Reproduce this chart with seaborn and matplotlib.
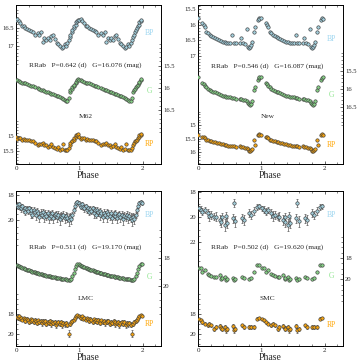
import numpy as np
import matplotlib
matplotlib.use("Agg")
import matplotlib.pyplot as plt
import seaborn as sns
from matplotlib.ticker import FixedLocator, FormatStrFormatter

# ---- data (one pulsation cycle, plotted twice) ----
m62_phase = [0.00, 0.02, 0.04, 0.07, 0.10, 0.12, 0.15, 0.18, 0.21, 0.24,
             0.27, 0.30, 0.34, 0.37, 0.40, 0.42, 0.45, 0.48, 0.50, 0.53,
             0.56, 0.58, 0.61, 0.64, 0.66, 0.69, 0.72, 0.74, 0.77, 0.79,
             0.81, 0.83, 0.85, 0.86, 0.88, 0.89, 0.91, 0.92, 0.94, 0.95,
             0.97, 0.98]
m62_bp = [16.30, 16.27, 16.33, 16.38, 16.45, 16.47, 16.50, 16.54, 16.57, 16.60,
          16.62, 16.70, 16.66, 16.72, 16.62, 16.90, 16.80, 16.86, 16.78, 16.84,
          16.74, 16.70, 16.82, 16.92, 16.97, 17.02, 17.07, 17.03, 16.96, 17.00,
          16.93, 16.86, 16.76, 16.70, 16.63, 16.58, 16.52, 16.47, 16.42, 16.36,
          16.31, 16.28]
m62_g = [15.82, 15.83, 15.84, 15.86, 15.88, 15.89, 15.90, 15.92, 15.94, 15.95,
         15.97, 15.98, 16.01, 16.02, 16.04, 16.05, 16.07, 16.09, 16.10, 16.11,
         16.13, 16.15, 16.16, 16.18, 16.19, 16.21, 16.23, 16.25, 16.27, 16.29,
         16.30, 16.24, 16.10, 16.06, 16.02, 15.99, 15.96, 15.93, 15.89, 15.86,
         15.82, 15.80]
m62_rp = [15.03, 15.10, 15.06, 15.08, 15.12, 15.10, 15.13, 15.14, 15.13, 15.15,
          15.17, 15.22, 15.30, 15.25, 15.28, 15.24, 15.30, 15.29, 15.36, 15.33,
          15.28, 15.38, 15.40, 15.42, 15.37, 15.45, 15.43, 15.27, 15.48, 15.45,
          15.47, 15.40, 15.30, 15.22, 15.18, 15.15, 15.12, 15.08, 15.02, 14.98,
          14.95, 14.93]

new_phase = [0.00, 0.07, 0.09, 0.11, 0.13, 0.16, 0.19, 0.21, 0.24, 0.27,
             0.30, 0.33, 0.36, 0.39, 0.42, 0.45, 0.48, 0.51, 0.54, 0.57,
             0.60, 0.66, 0.68, 0.71, 0.74, 0.77, 0.79, 0.80, 0.82, 0.83,
             0.85, 0.88, 0.90, 0.95, 0.96, 0.97]
new_bp = [15.78, 15.95, 16.00, 16.08, 16.22, 16.25, 16.32, 16.35, 16.38, 16.43,
          16.46, 16.48, 16.51, 16.54, 16.56, 16.57, 16.59, 16.57, 16.32, 16.57,
          16.59, 16.57, 16.43, 16.59, 16.62, 16.14, 16.70, 16.75, 16.70, 16.65,
          16.55, 16.22, 16.05, 15.84, 15.78, 15.81]
new_g = [15.67, 15.82, 15.85, 15.91, 15.94, 15.99, 16.02, 16.04, 16.07, 16.09,
         16.11, 16.14, 16.16, 16.18, 16.20, 16.21, 16.22, 16.23, 16.24, 16.25,
         16.26, 16.27, 16.28, 16.29, 16.31, 16.32, 16.37, 16.41, 16.44, 16.41,
         16.34, 16.02, 15.95, 15.75, 15.70, 15.66]
new_rp = [15.37, 15.43, 15.46, 15.49, 15.56, 15.56, 15.59, 15.60, 15.63, 15.64,
          15.65, 15.68, 15.70, 15.72, 15.73, 15.75, 15.77, 15.77, 15.78, 15.78,
          15.80, 15.78, 15.80, 15.81, 15.84, 15.86, 15.90, 15.95, 15.95, 15.93,
          15.89, 15.56, 15.74, 15.37, 15.35, 15.37]

lmc_phase = [0.01, 0.03, 0.05, 0.06, 0.08, 0.10, 0.12, 0.14, 0.15, 0.17,
             0.19, 0.21, 0.23, 0.24, 0.26, 0.28, 0.30, 0.32, 0.33, 0.35,
             0.37, 0.39, 0.41, 0.43, 0.44, 0.46, 0.48, 0.50, 0.52, 0.54,
             0.56, 0.57, 0.59, 0.61, 0.63, 0.65, 0.67, 0.69, 0.71, 0.73,
             0.75, 0.77, 0.79, 0.81, 0.83, 0.85, 0.87, 0.89, 0.91, 0.93,
             0.95, 0.97, 0.99]
lmc_bp = [18.78, 18.90, 18.72, 18.95, 19.05, 18.88, 19.15, 19.02, 19.30, 19.10,
          19.25, 19.05, 19.40, 19.20, 19.55, 19.15, 19.35, 19.60, 19.28, 19.45,
          19.70, 19.38, 19.55, 19.30, 19.75, 19.48, 19.62, 19.40, 19.80, 19.55,
          19.68, 19.45, 19.85, 19.60, 19.50, 19.75, 19.58, 19.90, 19.62, 19.70,
          19.55, 19.82, 19.65, 19.78, 19.95, 19.70, 19.90, 19.60, 19.20, 18.85,
          18.65, 18.55, 18.60]
lmc_bp_err = [0.18, 0.20, 0.15, 0.22, 0.25, 0.18, 0.24, 0.20, 0.30, 0.22,
              0.26, 0.20, 0.45, 0.24, 0.30, 0.22, 0.28, 0.35, 0.25, 0.28,
              0.40, 0.26, 0.30, 0.24, 0.35, 0.28, 0.32, 0.25, 0.45, 0.30,
              0.32, 0.26, 0.38, 0.30, 0.28, 0.35, 0.30, 0.50, 0.30, 0.32,
              0.28, 0.36, 0.30, 0.34, 0.48, 0.32, 0.40, 0.25, 0.22, 0.20,
              0.18, 0.16, 0.15]
lmc_g = [18.52, 18.56, 18.60, 18.63, 18.67, 18.70, 18.74, 18.77, 18.80, 18.83,
         18.86, 18.89, 18.92, 18.94, 18.97, 19.00, 19.02, 19.05, 19.07, 19.10,
         19.12, 19.14, 19.17, 19.19, 19.21, 19.23, 19.26, 19.28, 19.30, 19.32,
         19.34, 19.35, 19.37, 19.39, 19.40, 19.42, 19.44, 19.46, 19.47, 19.49,
         19.50, 19.52, 19.53, 19.55, 19.57, 19.56, 19.48, 19.30, 19.05, 18.80,
         18.55, 18.42, 18.40]
lmc_rp = [18.30, 18.45, 18.25, 18.50, 18.40, 18.60, 18.45, 18.55, 18.70, 18.50,
          18.65, 18.80, 18.55, 18.70, 18.62, 18.85, 18.60, 18.75, 18.90, 18.65,
          18.80, 18.70, 18.95, 18.75, 18.85, 18.70, 19.00, 18.80, 18.90, 18.75,
          19.05, 18.85, 18.95, 18.80, 19.10, 18.90, 18.85, 19.00, 18.80, 19.15,
          18.95, 19.05, 18.90, 19.10, 20.00, 19.00, 18.85, 18.75, 18.60, 18.40,
          18.25, 18.15, 18.20]
lmc_rp_err = [0.12, 0.14, 0.12, 0.15, 0.14, 0.16, 0.14, 0.15, 0.18, 0.14,
              0.16, 0.20, 0.15, 0.18, 0.16, 0.22, 0.16, 0.18, 0.25, 0.16,
              0.20, 0.18, 0.24, 0.18, 0.20, 0.18, 0.26, 0.20, 0.22, 0.18,
              0.28, 0.20, 0.22, 0.20, 0.30, 0.22, 0.20, 0.24, 0.20, 0.30,
              0.22, 0.24, 0.20, 0.26, 0.35, 0.22, 0.20, 0.18, 0.16, 0.15,
              0.14, 0.12, 0.12]

smc_phase = [0.01, 0.04, 0.07, 0.11, 0.16, 0.18, 0.21, 0.26, 0.28, 0.34,
             0.37, 0.38, 0.42, 0.44, 0.46, 0.55, 0.57, 0.59, 0.69, 0.72,
             0.80, 0.83, 0.88, 0.93, 0.96]
smc_bp = [19.30, 19.42, 19.58, 19.45, 19.70, 19.95, 19.85, 19.97, 20.00, 20.25,
          20.38, 19.98, 20.63, 19.95, 20.50, 20.10, 18.92, 20.35, 20.10, 20.25,
          19.70, 19.85, 19.55, 19.20, 19.15]
smc_bp_err = [0.20, 0.25, 0.30, 0.25, 0.35, 0.40, 0.30, 0.30, 0.35, 0.40,
              0.45, 0.30, 0.50, 0.35, 0.40, 0.35, 0.30, 0.45, 0.35, 0.40,
              0.30, 0.30, 0.30, 0.25, 0.20]
smc_g = [18.90, 18.95, 19.30, 19.16, 19.47, 19.62, 19.68, 19.78, 19.80, 19.62,
         19.94, 19.85, 19.78, 20.10, 19.95, 19.90, 20.10, 19.95, 19.78, 19.92,
         19.94, 19.90, 19.30, 18.65, 18.62]
smc_rp = [18.50, 18.67, 18.83, 19.00, 19.17, 19.00, 19.17, 19.50, 19.33, 19.23,
          19.43, 19.50, 19.33, 19.67, 19.50, 19.23, 19.67, 19.50, 19.17, 19.33,
          19.33, 19.33, 19.30, 18.50, 18.43]
smc_rp_err = [0.12, 0.14, 0.15, 0.16, 0.18, 0.16, 0.18, 0.22, 0.20, 0.18,
              0.22, 0.24, 0.20, 0.26, 0.22, 0.18, 0.26, 0.22, 0.18, 0.20,
              0.20, 0.20, 0.18, 0.14, 0.12]

names = ["M62", "New", "LMC", "SMC"]
periods = ["0.642", "0.546", "0.511", "0.502"]
g_means = ["16.076", "16.087", "19.170", "19.620"]

# ---- style ----
sns.set_style("ticks")
plt.rcParams['font.family'] = ['Liberation Serif', 'DejaVu Serif']
plt.rcParams['xtick.direction'] = 'in'
plt.rcParams['ytick.direction'] = 'in'

band_fill = {"BP": "#a3cfdc", "G": "#86d086", "RP": "#f5a30f"}
band_text = {"BP": "#9dd6f0", "G": "#8fe58f", "RP": "#ffa500"}
edge = "#3c3c3c"

fig = plt.figure(figsize=(3.64, 3.64), dpi=100)


def add_band(rect, phase, mag, err):
    ax = fig.add_axes(rect)
    ax.patch.set_visible(False)
    for s in ax.spines.values():
        s.set_visible(False)
    ph = np.concatenate([phase, np.asarray(phase) + 1])
    mm = np.concatenate([mag, mag])
    if err is not None:
        ee = np.concatenate([err, err])
        ax.errorbar(ph, mm, yerr=ee, fmt='none', ecolor='#5a5a5a',
                    elinewidth=0.5, capsize=0.8, capthick=0.5, zorder=2)
    return ax, ph, mm


def style_band(ax, ylim, ticks, side, step):
    ax.set_xlim(0, 2.29)
    ax.set_ylim(ylim)
    ax.set_xticks([])
    ax.yaxis.set_ticks_position(side)
    ax.yaxis.set_major_locator(FixedLocator(ticks))
    minor = np.arange(ticks[0] - step, ticks[-1] + step * 1.01,
                      step / 5 if step < 1 else step / 4)
    ax.yaxis.set_minor_locator(FixedLocator(minor))
    ax.yaxis.set_major_formatter(FormatStrFormatter('%g'))
    ax.tick_params(axis='y', which='major', length=2.5, width=0.5,
                   labelsize=4.8, pad=1.5,
                   left=(side == 'left'), right=(side == 'right'),
                   labelleft=(side == 'left'), labelright=(side == 'right'))
    ax.tick_params(axis='y', which='minor', length=1.3, width=0.4,
                   left=(side == 'left'), right=(side == 'right'))
    ax.set_xlabel("")
    ax.set_ylabel("")


panels = [
    dict(rect=[0.04396, 0.54945, 0.39835, 0.43681], name=0,
         phase=m62_phase,
         bands=[("BP", m62_bp, None, (20.29, 15.875), [16.5, 17], "left", 0.5),
                ("G", m62_g, None, (17.72, 14.13), [15.5, 16, 16.5], "right", 0.5),
                ("RP", m62_rp, None, (15.933, 10.633), [15, 15.5], "left", 0.5)],
         label_y=[0.824, 0.461, 0.126], info_y=0.623, name_y=0.297),
    dict(rect=[0.54396, 0.54945, 0.39835, 0.43681], name=1,
         phase=new_phase,
         bands=[("BP", new_bp, None, (20.484, 15.355), [15.5, 16, 16.5, 17], "left", 0.5),
                ("G", new_g, None, (18.062, 13.682), [15.5, 16, 16.5], "right", 0.5),
                ("RP", new_rp, None, (16.444, 10.556), [15, 15.5, 16], "left", 0.5)],
         label_y=[0.786, 0.434, 0.12], info_y=0.618, name_y=0.297),
    dict(rect=[0.04396, 0.04945, 0.39835, 0.42582], name=2,
         phase=lmc_phase,
         bands=[("BP", lmc_bp, lmc_bp_err, (30.056, 17.656), [18, 20], "left", 2),
                ("G", lmc_g, None, (24.286, 13.214), [18, 20], "right", 2),
                ("RP", lmc_rp, lmc_rp_err, (21.23, 5.73), [18, 20], "left", 2)],
         label_y=[0.847, 0.445, 0.144], info_y=0.639, name_y=0.305),
    dict(rect=[0.54396, 0.04945, 0.39835, 0.42582], name=3,
         phase=smc_phase,
         bands=[("BP", smc_bp, smc_bp_err, (30.21, 17.95), [18, 20, 22], "left", 2),
                ("G", smc_g, None, (26.26, 11.71), [18, 20], "right", 2),
                ("RP", smc_rp, smc_rp_err, (21.23, 5.73), [18, 20], "left", 2)],
         label_y=[0.843, 0.45, 0.134], info_y=0.639, name_y=0.305),
]

for p in panels:
    frame = fig.add_axes(p["rect"])
    frame.set_xlim(0, 2.29)
    frame.set_ylim(0, 1)
    frame.set_yticks([])
    frame.set_xticks([0, 1, 2])
    frame.set_xticks(np.arange(0, 2.3, 0.2), minor=True)
    frame.tick_params(axis='x', which='major', length=2.5, width=0.5,
                      labelsize=5, pad=1.5, top=True)
    frame.tick_params(axis='x', which='minor', length=1.3, width=0.4, top=True)
    for s in frame.spines.values():
        s.set_linewidth(0.7)
        s.set_color("black")
    frame.set_xlabel("Phase", fontsize=7, labelpad=0)

    i = p["name"]
    frame.text(0.48, p["info_y"],
               "RRab   P=%s (d)   G=%s (mag)" % (periods[i], g_means[i]),
               transform=frame.transAxes, ha='center', va='center', fontsize=5.3)
    frame.text(0.48, p["name_y"], names[i], transform=frame.transAxes,
               ha='center', va='center', fontsize=5.3)

    for (band, mag, err, ylim, ticks, side, step), ly in zip(p["bands"], p["label_y"]):
        ax, ph, mm = add_band(p["rect"], p["phase"], mag, err)
        sns.scatterplot(x=ph, y=mm, ax=ax, color=band_fill[band],
                        edgecolor=edge, linewidth=0.45, s=6, zorder=3,
                        legend=False)
        style_band(ax, ylim, ticks, side, step)
        frame.text(0.918, ly, band, transform=frame.transAxes, ha='center',
                   va='center', fontsize=5.5, color=band_text[band])

fig.savefig("out.png", dpi=100)
